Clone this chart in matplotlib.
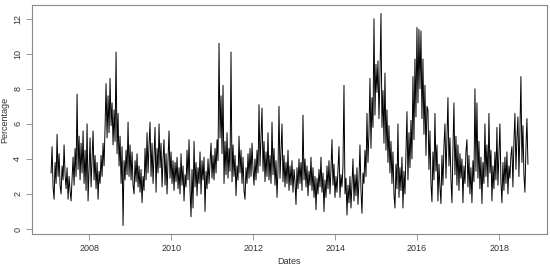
import numpy as np
import matplotlib
matplotlib.use("Agg")
import matplotlib.pyplot as plt

start_year = 2007.07
step = 1 / 41.0

v2007 = [3.2, 4.7, 2.4, 1.7, 3.8, 2.6, 5.4, 3.0, 4.3, 2.5, 2.0, 3.6, 2.8, 4.8, 3.1, 2.3, 3.5, 1.7, 3.0,
         2.2, 1.6, 2.9, 4.1, 2.5, 4.6, 3.0, 7.7, 3.4, 5.3, 2.8, 4.9, 3.2, 5.6, 2.6, 4.5, 2.2, 6.0, 1.6]
v2008 = [3.5, 5.2, 2.4, 4.0, 5.6, 2.8, 4.2, 2.3, 3.8, 1.7, 3.3, 2.6, 4.2, 3.0, 4.9, 3.6, 5.8, 8.3, 5.2,
         7.6, 5.5, 8.6, 5.9, 7.2, 4.8, 6.8, 5.0, 10.1, 4.3, 6.6, 3.6, 5.3, 2.6, 4.7, 0.2, 3.9, 2.8, 4.5,
         3.1, 6.1, 3.0, 4.8]
v2009 = [2.8, 4.4, 2.5, 2.0, 3.9, 2.7, 4.3, 2.4, 3.6, 2.1, 3.4, 1.5, 3.0, 2.2, 4.6, 2.8, 5.5, 3.2, 4.8,
         6.1, 3.0, 4.9, 2.6, 4.2, 5.8, 2.1, 4.6, 3.2, 6.0, 3.5, 4.9, 2.4, 4.0, 5.1, 2.5, 4.3, 2.0, 4.0,
         5.6, 2.9, 4.4]
v2010 = [2.6, 3.9, 2.2, 3.8, 2.7, 4.1, 2.3, 3.5, 2.0, 4.3, 2.5, 3.6, 1.6, 3.1, 2.4, 4.5, 2.8, 5.1, 2.2,
         0.7, 3.4, 1.2, 5.0, 2.4, 3.8, 1.9, 3.5, 2.6, 4.4, 2.0, 3.9, 2.8, 4.1, 1.0, 3.3, 2.3, 4.0, 2.6,
         3.8, 4.9, 2.9]
v2011 = [4.2, 2.8, 4.6, 3.2, 5.1, 3.9, 10.6, 5.2, 7.6, 4.3, 8.2, 2.6, 5.0, 3.1, 5.5, 2.9, 4.6, 3.3, 10.1,
         2.7, 4.8, 3.0, 4.2, 1.9, 3.6, 2.8, 5.3, 3.2, 4.5, 2.6, 4.1, 2.2, 1.7, 3.5, 2.6, 4.3, 2.9, 4.6,
         3.0, 4.9, 3.4]
v2012 = [2.5, 4.0, 2.8, 4.5, 3.2, 7.1, 3.6, 5.2, 6.9, 3.3, 5.0, 2.7, 4.4, 3.0, 5.5, 2.8, 4.2, 2.6, 6.1,
         3.1, 4.6, 2.5, 3.9, 1.8, 3.4, 7.0, 2.9, 4.4, 6.0, 2.7, 4.2, 2.4, 3.8, 2.6, 4.5, 2.2, 3.6, 2.5,
         3.9, 2.1, 3.4]
v2013 = [2.7, 1.4, 3.5, 2.3, 4.0, 2.6, 3.8, 2.2, 6.5, 2.8, 4.0, 2.4, 3.6, 1.9, 3.3, 2.5, 4.1, 2.2, 3.5,
         1.8, 3.0, 1.1, 2.9, 2.0, 3.4, 2.4, 4.1, 2.1, 3.2, 1.0, 2.8, 1.8, 3.6, 2.3, 3.9, 2.0, 3.4, 5.1,
         2.5, 3.7, 1.8]
v2014 = [3.0, 2.1, 3.4, 4.7, 1.8, 3.1, 2.4, 3.6, 8.2, 2.0, 2.9, 0.8, 2.5, 1.5, 3.0, 1.2, 2.6, 4.0, 1.6,
         3.1, 1.9, 3.5, 1.4, 2.8, 4.8, 2.2, 0.9, 3.2, 2.6, 4.5, 3.0, 6.6, 3.8, 5.5, 8.6, 4.6, 7.5, 5.8,
         12.0, 6.5, 9.4]
v2015 = [7.8, 9.6, 6.3, 8.8, 12.3, 5.8, 7.9, 4.9, 8.9, 4.5, 6.8, 3.8, 5.9, 3.2, 5.0, 2.6, 4.4, 2.0, 1.2,
         3.7, 2.3, 6.0, 1.8, 3.5, 2.2, 4.1, 1.2, 3.3, 2.0, 4.4, 6.7, 2.8, 5.5, 3.5, 6.2, 4.0, 8.7, 5.1,
         9.7, 6.4, 11.5]
v2016 = [7.2, 11.4, 8.0, 11.3, 6.3, 9.7, 5.4, 8.2, 4.2, 7.0, 6.8, 3.4, 5.6, 2.6, 1.55, 4.4, 2.8, 6.6,
         3.3, 4.8, 1.6, 3.7, 2.4, 1.45, 4.2, 2.5, 4.7, 6.0, 2.9, 5.1, 7.5, 3.6, 5.2, 2.8, 1.5, 4.6, 7.2,
         3.1, 5.3, 2.5, 4.8]
v2017 = [2.2, 4.3, 2.9, 4.0, 1.5, 3.6, 2.6, 4.4, 5.1, 2.4, 4.2, 2.0, 3.5, 1.5, 3.9, 2.7, 8.0, 3.3, 7.2,
         2.9, 5.0, 2.3, 4.1, 1.45, 3.8, 2.6, 6.0, 3.0, 4.8, 2.4, 6.6, 3.2, 4.5, 1.6, 3.6, 2.3, 4.4, 2.8,
         5.8, 2.5, 4.3]
v2018 = [6.0, 2.7, 1.5, 3.8, 2.2, 4.1, 2.6, 4.4, 2.0, 3.6, 2.9, 4.2, 4.7, 2.4, 5.0, 6.6, 3.4, 5.2, 6.4,
         3.0, 5.6, 8.7, 3.8, 5.9, 3.1, 2.1, 4.6, 6.3, 3.7]

values = np.array(v2007 + v2008 + v2009 + v2010 + v2011 + v2012 + v2013 + v2014 +
                  v2015 + v2016 + v2017 + v2018)
dates = start_year + np.arange(len(values)) * step

xticks = [2008, 2010, 2012, 2014, 2016, 2018]
yticks = [0, 2, 4, 6, 8, 10, 12]

plt.rcParams['font.family'] = ['Liberation Sans', 'DejaVu Sans']

fig = plt.figure(figsize=(5.5, 2.67), dpi=100)
ax = fig.add_axes([32 / 550, 33 / 267, (547 - 32) / 550, (234 - 5) / 267])
ax.plot(dates, values, color='black', linewidth=0.7)

xr = dates.max() - dates.min()
ax.set_xlim(dates.min() - 0.04 * xr, dates.max() + 0.04 * xr)
yr = values.max() - values.min()
ax.set_ylim(values.min() - 0.04 * yr, values.max() + 0.04 * yr)

ax.set_xticks(xticks)
ax.set_xticklabels([str(t) for t in xticks])
ax.set_yticks(yticks)
ax.set_yticklabels([str(t) for t in yticks], rotation=90, va='center')

for s in ax.spines.values():
    s.set_color('#888888')
    s.set_linewidth(0.8)
ax.tick_params(axis='both', direction='out', length=4, width=0.6, color='#888888',
               labelsize=6.5, labelcolor='#333333', pad=3)

ax.set_xlabel('Dates', fontsize=6.5, color='#333333', labelpad=3)
ax.set_ylabel('Percentage', fontsize=6.5, color='#333333', labelpad=3)

fig.savefig('out.png', dpi=100)
